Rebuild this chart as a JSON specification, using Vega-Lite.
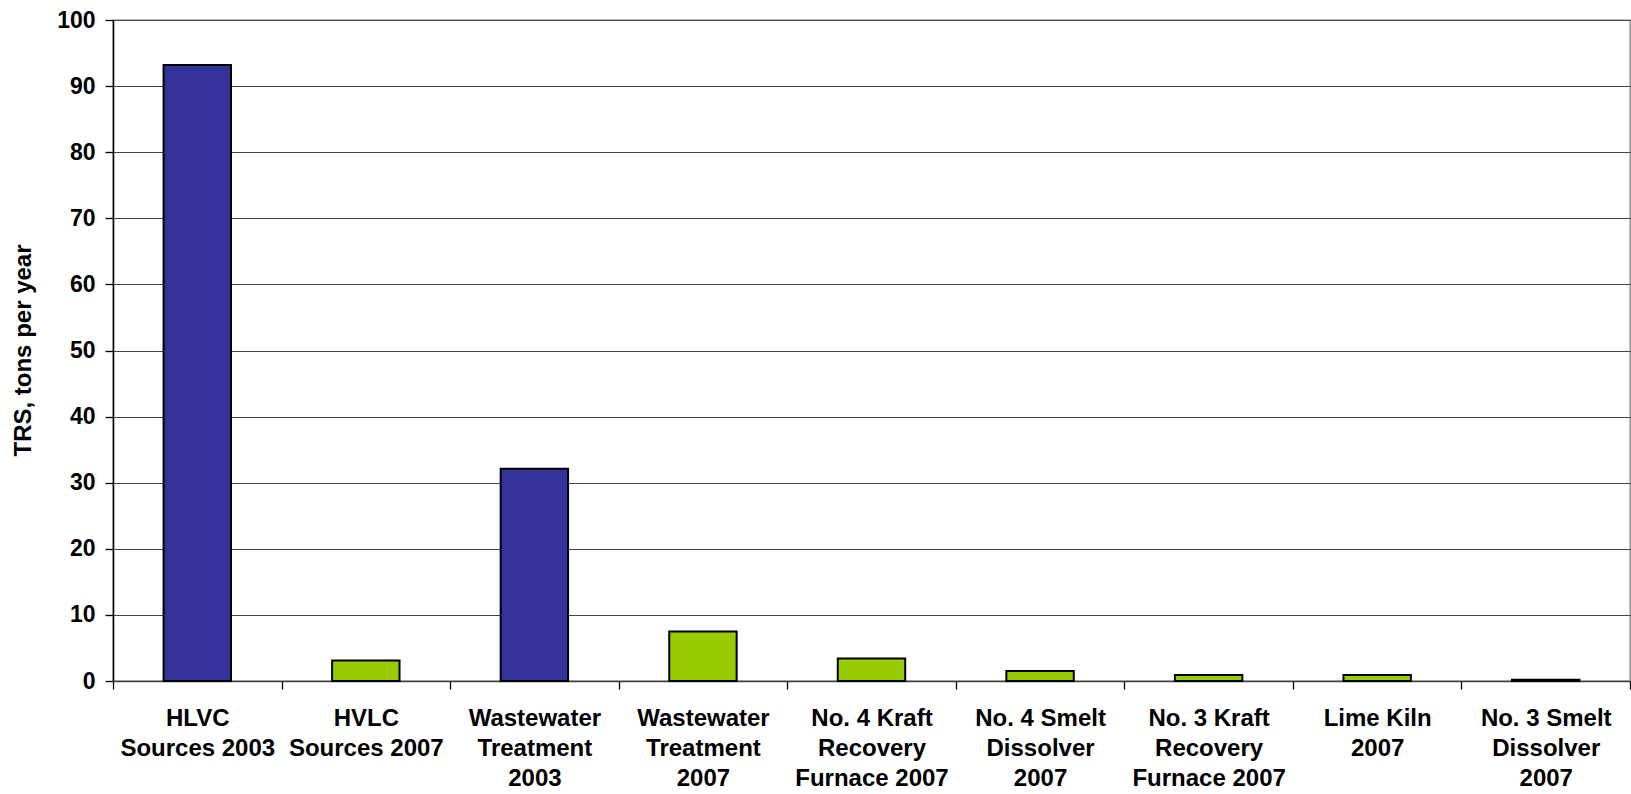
{
  "$schema": "https://vega.github.io/schema/vega-lite/v6.json",
  "autosize": {"type": "none"},
  "width": 1517,
  "height": 661,
  "padding": {"left": 113, "top": 20, "right": 1, "bottom": 113},
  "background": "white",
  "config": {
    "view": {"stroke": "#808080", "strokeWidth": 1.3},
    "font": "Liberation Sans"
  },
  "data": {
    "values": [
      {"source": "HLVC|Sources 2003", "year": "2003", "tons": 93.2},
      {"source": "HVLC|Sources 2007", "year": "2007", "tons": 3.1},
      {"source": "Wastewater|Treatment|2003", "year": "2003", "tons": 32.1},
      {"source": "Wastewater|Treatment|2007", "year": "2007", "tons": 7.5},
      {"source": "No. 4 Kraft|Recovery|Furnace 2007", "year": "2007", "tons": 3.4},
      {"source": "No. 4 Smelt|Dissolver|2007", "year": "2007", "tons": 1.5},
      {"source": "No. 3 Kraft|Recovery|Furnace 2007", "year": "2007", "tons": 0.9},
      {"source": "Lime Kiln|2007", "year": "2007", "tons": 0.9},
      {"source": "No. 3 Smelt|Dissolver|2007", "year": "2007", "tons": 0.2}
    ]
  },
  "mark": {"type": "bar", "stroke": "black", "strokeWidth": 2, "width": {"band": 0.4}},
  "encoding": {
    "x": {
      "field": "source",
      "type": "nominal",
      "sort": null,
      "scale": {"paddingInner": 0, "paddingOuter": 0},
      "axis": {
        "title": null,
        "labelAngle": 0,
        "labelExpr": "datum.value ? split(datum.value, '|') : ''",
        "labelFont": "Liberation Sans",
        "labelFontWeight": "bold",
        "labelFontSize": 24,
        "labelLineHeight": 30,
        "labelColor": "black",
        "labelPadding": 17,
        "labelBaseline": "top",
        "labelLimit": 0,
        "tickBand": "extent",
        "tickSize": 8,
        "tickColor": "black",
        "tickWidth": 1.3,
        "domainColor": "#404040",
        "domainWidth": 1.5,
        "grid": false
      }
    },
    "y": {
      "field": "tons",
      "type": "quantitative",
      "scale": {"domain": [0, 100], "nice": false},
      "axis": {
        "title": "TRS, tons per year",
        "titleFont": "Liberation Sans",
        "titleFontWeight": "bold",
        "titleFontSize": 24,
        "titleColor": "black",
        "titleAngle": -90,
        "titleAlign": "center",
        "titleBaseline": "middle",
        "titleX": -90,
        "titleY": 330,
        "values": [0, 10, 20, 30, 40, 50, 60, 70, 80, 90, 100],
        "labelFont": "Liberation Sans",
        "labelFontWeight": "bold",
        "labelFontSize": 23,
        "labelColor": "black",
        "labelPadding": 10,
        "tickSize": 8,
        "tickColor": "black",
        "tickWidth": 1.3,
        "domainColor": "black",
        "domainWidth": 1.5,
        "grid": true,
        "gridColor": "#444444",
        "gridWidth": 1.2
      }
    },
    "color": {
      "field": "year",
      "type": "nominal",
      "scale": {"domain": ["2003", "2007"], "range": ["#333399", "#99CC00"]},
      "legend": null
    }
  }
}
